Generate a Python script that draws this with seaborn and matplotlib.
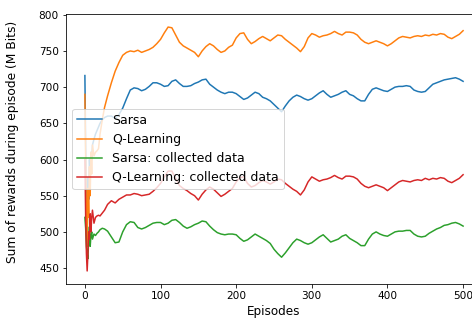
import numpy as np
import pandas as pd
import matplotlib
matplotlib.use("Agg")
import matplotlib.pyplot as plt
import seaborn as sns

# episodes: dense at the start, then every 5
episodes_early = [0, 1, 2, 3, 4, 5, 6, 7, 8, 9, 10, 12, 14, 16, 18, 20, 23, 26, 30, 35, 40, 45]
episodes = episodes_early + list(range(50, 501, 5))

sarsa = [716, 620, 545, 500, 575, 545, 600, 580, 610, 600, 620, 628, 635, 640, 645, 650, 655, 658, 660, 660, 657, 662,
         671, 684, 696, 699, 698, 695, 697, 701, 706, 706, 704,
         701, 702, 708, 710, 705, 701, 701, 702, 705, 707,
         710, 711, 704, 700, 696, 693, 691, 693, 693, 691,
         687, 683, 685, 689, 693, 691, 686, 684, 681, 676,
         671, 666, 674, 681, 686, 689, 687, 684, 682, 684,
         688, 692, 695, 690, 686, 688, 690, 693, 695, 690,
         688, 684, 681, 681, 690, 697, 699, 697, 695, 694,
         697, 700, 701, 701, 702, 701, 696, 694, 693, 694,
         699, 704, 706, 708, 710, 711, 712, 713, 711, 708]

qlearning = [690, 600, 520, 480, 560, 520, 590, 550, 610, 580, 620, 605, 610, 612, 615, 635, 655, 672, 688, 706, 722, 734,
             744, 748, 750, 749, 751, 748, 750, 752, 755, 760, 766,
             775, 783, 782, 772, 762, 757, 754, 751, 748, 742,
             750, 756, 760, 757, 752, 748, 750, 755, 758, 768,
             774, 775, 766, 760, 763, 767, 770, 767, 764, 768,
             772, 771, 766, 762, 758, 754, 749, 756, 768, 774,
             772, 769, 771, 772, 774, 777, 774, 772, 776, 776,
             775, 772, 766, 762, 760, 762, 764, 762, 760, 757,
             760, 764, 768, 770, 769, 768, 770, 771, 770, 772,
             771, 773, 772, 774, 773, 769, 767, 770, 773, 778]

sarsa_collected = [520, 505, 480, 470, 463, 490, 507, 480, 495, 500, 490, 497, 495, 498, 500, 503, 505, 504, 501, 493, 485, 486,
                   500, 510, 514, 513, 506, 504, 506, 509, 512, 513, 513,
                   510, 512, 516, 517, 513, 508, 505, 507, 510, 512,
                   515, 514, 508, 503, 499, 497, 496, 497, 497, 496,
                   491, 487, 489, 493, 497, 494, 491, 488, 484, 476,
                   470, 465, 471, 478, 485, 490, 488, 485, 483, 485,
                   489, 493, 496, 491, 486, 488, 490, 494, 496, 491,
                   488, 485, 481, 481, 490, 497, 500, 497, 495, 494,
                   497, 500, 501, 501, 502, 502, 497, 494, 493, 494,
                   498, 501, 504, 506, 509, 510, 512, 513, 511, 508]

qlearning_collected = [600, 520, 470, 446, 470, 500, 490, 525, 500, 520, 530, 512, 520, 522, 523, 522, 526, 530, 538, 543, 540, 545,
                       548, 551, 551, 553, 552, 550, 551, 552, 556, 561, 567,
                       576, 584, 584, 574, 564, 560, 557, 553, 550, 544,
                       552, 558, 562, 559, 554, 549, 552, 556, 560, 569,
                       575, 576, 567, 562, 564, 568, 571, 569, 566, 569,
                       573, 572, 567, 563, 559, 556, 551, 558, 569, 576,
                       573, 570, 572, 573, 575, 578, 575, 573, 577, 577,
                       576, 573, 567, 563, 561, 563, 565, 563, 561, 557,
                       561, 565, 569, 571, 570, 569, 571, 572, 571, 574,
                       572, 574, 573, 575, 574, 570, 568, 571, 574, 579]

labels = ["Sarsa", "Q-Learning", "Sarsa: collected data", "Q-Learning: collected data"]
series = [sarsa, qlearning, sarsa_collected, qlearning_collected]

frames = []
for lab, vals in zip(labels, series):
    frames.append(pd.DataFrame({"Episodes": episodes, "reward": vals, "run": lab}))
df = pd.concat(frames, ignore_index=True)

fig = plt.figure(figsize=(472 / 72, 321 / 72), dpi=72)
ax = fig.add_axes([0.1398, 0.1153, 0.8814, 0.841])

sns.lineplot(data=df, x="Episodes", y="reward", hue="run", hue_order=labels,
             palette=["#1f77b4", "#ff7f0e", "#2ca02c", "#d62728"],
             linewidth=1.5, ax=ax, estimator=None)

ax.set_xlim(-25, 525)
ax.set_ylim(428, 801)
ax.set_xticks([0, 100, 200, 300, 400, 500])
ax.set_yticks(range(450, 801, 50))
ax.tick_params(labelsize=10.5)
ax.set_xlabel("Episodes", fontsize=12, labelpad=4)
ax.set_ylabel("Sum of rewards during episode (M Bits)", fontsize=12.3)
ax.yaxis.set_label_coords(-0.113, 0.526)

handles, labs = ax.get_legend_handles_labels()
ax.legend(handles, labs, loc="center left", fontsize=12.5)

fig.savefig("out.png", dpi=72)
